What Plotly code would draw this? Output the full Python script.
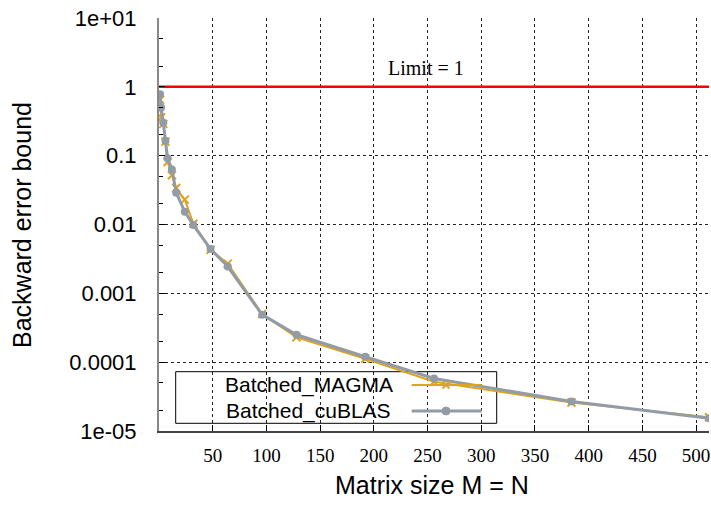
import plotly.graph_objects as go

# ---- data ----
sizes = [1, 2, 4, 6, 8, 12, 16, 24, 32, 48, 64, 96, 128, 192, 256, 384, 512]
err_magma = [0.65, 0.36, 0.29, 0.16, 0.081, 0.052, 0.034, 0.023, 0.0103, 0.0043,
             0.0027, 0.0005, 0.00023, 0.000112, 0.000052, 0.000026, 0.0000158]
err_cublas = [0.78, 0.50, 0.30, 0.165, 0.092, 0.063, 0.029, 0.0153, 0.0098, 0.0044,
              0.00245, 0.00049, 0.00025, 0.00012, 0.000058, 0.0000268, 0.0000153]
limit_x = [0, 512]
limit_y = [1, 1]
x_ticks = [50, 100, 150, 200, 250, 300, 350, 400, 450, 500]
y_tickvals = [1e1, 1, 0.1, 0.01, 0.001, 0.0001, 1e-5]
y_ticktext = ["1e+01", "1", "0.1", "0.01", "0.001", "0.0001", "1e-05"]
series_names = ["Batched_MAGMA", "Batched_cuBLAS"]

W, H = 711, 507
L, R, T, B = 159, 709, 18, 431
ORANGE = "#DAA520"
GRAY = "#939ba6"


def px(xp):
    return (xp - L) / (R - L)


def py(yp):
    return (B - yp) / (B - T)


fig = go.Figure()
fig.add_trace(go.Scatter(x=limit_x, y=limit_y, mode="lines",
                         line=dict(color="#ff0000", width=2.5), showlegend=False))
fig.add_trace(go.Scatter(x=sizes, y=err_magma, mode="lines+markers", name=series_names[0],
                         line=dict(color=ORANGE, width=2),
                         marker=dict(symbol="x-thin", size=8,
                                     line=dict(color=ORANGE, width=2)),
                         showlegend=False))
fig.add_trace(go.Scatter(x=sizes, y=err_cublas, mode="lines+markers", name=series_names[1],
                         line=dict(color=GRAY, width=3),
                         marker=dict(symbol="circle", size=8, color=GRAY),
                         showlegend=False))

shapes = []
# legend box (opaque, above grid, below traces)
shapes.append(dict(type="rect", xref="paper", yref="paper",
                   x0=px(175.7), x1=px(496.7), y0=py(423.3), y1=py(371.7),
                   line=dict(color="black", width=1), fillcolor="white", layer="between"))
# legend samples
shapes.append(dict(type="line", xref="paper", yref="paper",
                   x0=px(411.7), x1=px(481.7), y0=py(385), y1=py(385),
                   line=dict(color=ORANGE, width=2)))
shapes.append(dict(type="line", xref="paper", yref="paper",
                   x0=px(442.5), x1=px(449.5), y0=py(381.5), y1=py(388.5),
                   line=dict(color=ORANGE, width=2)))
shapes.append(dict(type="line", xref="paper", yref="paper",
                   x0=px(442.5), x1=px(449.5), y0=py(388.5), y1=py(381.5),
                   line=dict(color=ORANGE, width=2)))
shapes.append(dict(type="line", xref="paper", yref="paper",
                   x0=px(411.7), x1=px(481.7), y0=py(411), y1=py(411),
                   line=dict(color=GRAY, width=3)))
shapes.append(dict(type="circle", xref="paper", yref="paper",
                   x0=px(442), x1=px(450), y0=py(415), y1=py(407),
                   line=dict(color=GRAY, width=1), fillcolor=GRAY))

annotations = [
    dict(text="Limit = 1", x=249, y=0, xref="x", yref="y", xanchor="center", yanchor="bottom",
         yshift=6, showarrow=False,
         font=dict(family="Liberation Serif", size=20, color="black")),
    dict(text=series_names[0], xref="paper", yref="paper", x=px(395), y=py(385),
         xanchor="right", yanchor="middle", showarrow=False,
         font=dict(family="Liberation Sans", size=21, color="black")),
    dict(text=series_names[1], xref="paper", yref="paper", x=px(393), y=py(411),
         xanchor="right", yanchor="middle", showarrow=False,
         font=dict(family="Liberation Sans", size=21, color="black")),
    dict(text="Matrix size M = N", xref="paper", yref="paper", x=px(432), y=py(485),
         xanchor="center", yanchor="middle", showarrow=False,
         font=dict(family="Liberation Sans", size=25, color="black")),
    dict(text="Backward error bound", xref="paper", yref="paper", x=px(22), y=py(225),
         xanchor="center", yanchor="middle", showarrow=False, textangle=-90,
         font=dict(family="Liberation Sans", size=25, color="black")),
]

fig.update_layout(
    width=W, height=H,
    margin=dict(l=L, r=W - R, t=T, b=H - B, pad=0, autoexpand=False),
    paper_bgcolor="white", plot_bgcolor="white",
    shapes=shapes, annotations=annotations,
    xaxis=dict(range=[0, 512], tickvals=x_ticks, ticks="inside", ticklen=6,
               automargin=False,
               tickcolor="black", showline=True, linecolor="#444444", linewidth=1.5,
               showgrid=True, gridcolor="#222222", griddash="dot", gridwidth=1,
               zeroline=False, ticklabelstandoff=6,
               tickfont=dict(family="Liberation Serif", size=19, color="black")),
    yaxis=dict(type="log", range=[-5, 1], tickvals=y_tickvals, ticktext=y_ticktext,
               automargin=False,
               ticks="inside", ticklen=6, tickcolor="black",
               minor=dict(dtick="D2", ticks="inside", ticklen=4, tickcolor="black",
                          showgrid=False),
               showline=True, linecolor="#888888", linewidth=2,
               showgrid=True, gridcolor="#222222", griddash="dot", gridwidth=1,
               zeroline=False, ticklabelstandoff=16,
               tickfont=dict(family="Liberation Sans", size=22, color="black")),
)

fig.write_html("out.html", config={"displayModeBar": False},
               post_script="document.body.style.margin='0';")
